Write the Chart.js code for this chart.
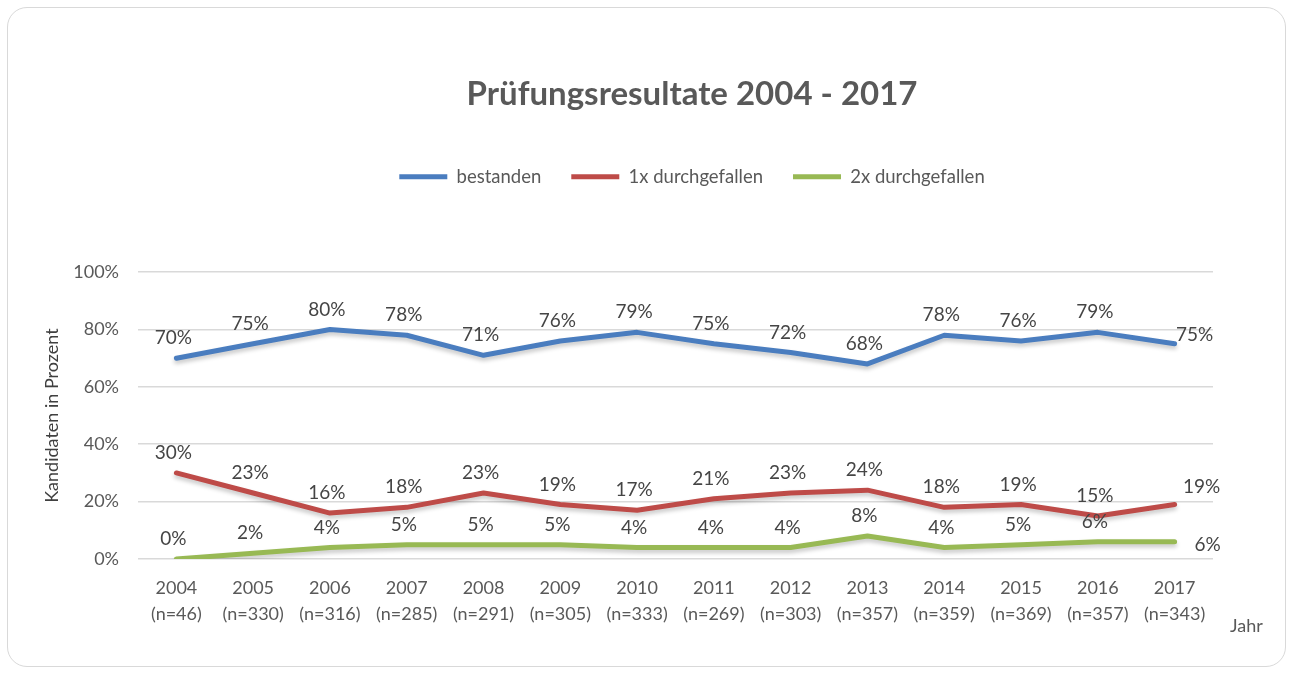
<!DOCTYPE html>
<html>
<head>
<meta charset="utf-8">
<script src="https://cdn.jsdelivr.net/npm/chart.js@4.4.1/dist/chart.umd.min.js"></script>
<style>
  html, body { margin: 0; padding: 0; background: #ffffff; }
  #wrap { position: relative; width: 1292px; height: 677px; }
  #card { position: absolute; left: 7px; top: 7px; width: 1279px; height: 660px;
          border: 1.5px solid #d9d9d9; border-radius: 20px; box-sizing: border-box; }
  #c { position: absolute; left: 0; top: 0; }
</style>
</head>
<body>
<div id="wrap">
  <div id="card"></div>
  <canvas id="c" width="1292" height="677"></canvas>
</div>
<script>
const years = ['2004','2005','2006','2007','2008','2009','2010','2011','2012','2013','2014','2015','2016','2017'];
const sampleSizes = ['(n=46)','(n=330)','(n=316)','(n=285)','(n=291)','(n=305)','(n=333)','(n=269)','(n=303)','(n=357)','(n=359)','(n=369)','(n=357)','(n=343)'];
const bestanden = [70,75,80,78,71,76,79,75,72,68,78,76,79,75];
const einmalDurchgefallen = [30,23,16,18,23,19,17,21,23,24,18,19,15,19];
const zweimalDurchgefallen = [0,2,4,5,5,5,4,4,4,8,4,5,6,6];
const yTicks = [0,20,40,60,80,100];
const seriesNames = ['bestanden','1x durchgefallen','2x durchgefallen'];

const labels = years.map((y, i) => [y, sampleSizes[i]]);
const FONT = 'Lato, "Open Sans", sans-serif';
const TEXT = '#595959';

const legendSpacer = {
  id: 'legendSpacer',
  beforeLayout(chart) {
    if (chart.legend && !chart.legend._patched) {
      const orig = chart.legend.fit;
      chart.legend.fit = function () { orig.call(this); this.height += 76; };
      chart.legend._patched = true;
    }
  },
  afterLayout(chart) {
    const dx = 65;
    [chart.titleBlock, chart.legend].forEach(b => {
      if (b) { b.left += dx; b.right += dx; }
    });
  }
};

const lineShadow = {
  id: 'lineShadow',
  beforeDatasetsDraw(chart) {
    const ctx = chart.ctx;
    ctx.save();
    ctx.shadowColor = 'rgba(0,0,0,0.22)';
    ctx.shadowBlur = 4;
    ctx.shadowOffsetY = 3;
  },
  afterDatasetsDraw(chart) { chart.ctx.restore(); }
};

const lastOffsets = [[20,-9],[27,-18],[33,3]];
const dataLabels = {
  id: 'dataLabels',
  afterDraw(chart) {
    const ctx = chart.ctx;
    ctx.save();
    ctx.font = '19px ' + FONT;
    ctx.fillStyle = '#454545';
    ctx.textAlign = 'center';
    ctx.textBaseline = 'middle';
    chart.data.datasets.forEach((ds, di) => {
      const meta = chart.getDatasetMeta(di);
      meta.data.forEach((pt, i) => {
        let dx = -3, dy = -20;
        if (i === ds.data.length - 1) { dx = lastOffsets[di][0]; dy = lastOffsets[di][1]; }
        ctx.fillText(ds.data[i] + '%', pt.x + dx, pt.y + dy);
      });
    });
    // x axis title "Jahr"
    ctx.font = '18px ' + FONT;
    ctx.fillStyle = TEXT;
    ctx.textAlign = 'left';
    ctx.fillText('Jahr', chart.chartArea.right + 17, 626);
    ctx.restore();
  }
};

new Chart(document.getElementById('c'), {
  type: 'line',
  data: {
    labels: labels,
    datasets: [
      { label: seriesNames[0], data: bestanden, borderColor: '#4a7dbf', backgroundColor: '#4a7dbf' },
      { label: seriesNames[1], data: einmalDurchgefallen, borderColor: '#be4b48', backgroundColor: '#be4b48' },
      { label: seriesNames[2], data: zweimalDurchgefallen, borderColor: '#98b954', backgroundColor: '#98b954' }
    ].map(d => Object.assign(d, { borderWidth: 5, pointRadius: 0, pointHoverRadius: 0, tension: 0, fill: false, borderCapStyle: 'round', borderJoinStyle: 'round' }))
  },
  options: {
    responsive: false,
    animation: false,
    devicePixelRatio: 1,
    layout: { padding: { left: 41, right: 79, top: 0, bottom: 38 } },
    plugins: {
      title: {
        display: true,
        text: 'Prüfungsresultate 2004 - 2017',
        color: TEXT,
        font: { family: FONT, size: 33, weight: 'bold' },
        padding: { top: 75, bottom: 23 }
      },
      legend: {
        display: true,
        position: 'top',
        labels: {
          usePointStyle: true,
          pointStyle: 'line',
          pointStyleWidth: 48,
          boxHeight: 6,
          color: TEXT,
          font: { family: FONT, size: 18.5 },
          padding: 30
        }
      },
      tooltip: { enabled: false }
    },
    scales: {
      x: {
        offset: true,
        grid: { display: false, drawTicks: false },
        border: { display: false },
        ticks: { color: TEXT, font: { family: FONT, size: 18, lineHeight: 1.45 }, padding: 16, maxRotation: 0, autoSkip: false },
        afterFit(scale) { scale.height = 80; }
      },
      y: {
        min: 0, max: 100,
        afterBuildTicks(scale) { scale.ticks = yTicks.map(v => ({ value: v })); },
        grid: { color: '#d9d9d9', lineWidth: 1.5, drawTicks: false },
        border: { display: false },
        ticks: { color: TEXT, font: { family: FONT, size: 18 }, padding: 19, callback: v => v + '%' },
        title: { display: true, text: 'Kandidaten in Prozent', color: '#404040', font: { family: FONT, size: 18 }, padding: { top: 0, bottom: 0 } },
        afterFit(scale) { scale.width = 97; }
      }
    }
  },
  plugins: [legendSpacer, lineShadow, dataLabels]
});
</script>
</body>
</html>
